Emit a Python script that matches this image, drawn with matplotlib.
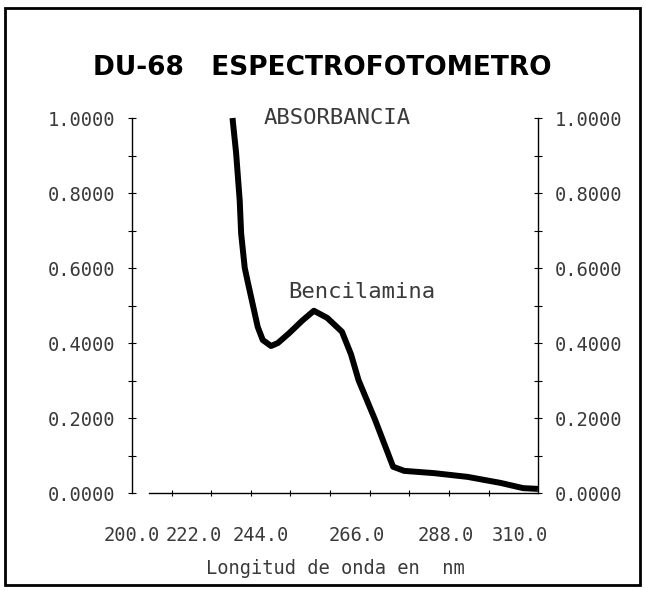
import matplotlib.pyplot as plt
from matplotlib.patches import Rectangle

# spectrum of bencilamina
wavelength = [227.9, 228.9, 229.9, 230.3, 231.3, 232.2, 234.9, 236.3, 238.6, 240.5,
              243.6, 247.3, 250.5, 254.2, 258.3, 260.8, 262.9, 267.5, 272.5, 275.6,
              283.9, 293.2, 302.3, 308.6, 312.7]
absorbance = [1.000, 0.907, 0.780, 0.692, 0.600, 0.560, 0.443, 0.408, 0.392, 0.400,
              0.426, 0.460, 0.486, 0.467, 0.430, 0.370, 0.301, 0.195, 0.070, 0.059,
              0.053, 0.043, 0.027, 0.013, 0.011]

y_ticks = [0.0, 0.2, 0.4, 0.6, 0.8, 1.0]
y_labels = ['0.0000', '0.2000', '0.4000', '0.6000', '0.8000', '1.0000']
x_labels = ['200.0', '222.0', '244.0', '266.0', '288.0', '310.0']

mono = 'DejaVu Sans Mono'
grey = '#3a3a3a'

fig = plt.figure(figsize=(6.45, 5.91), dpi=100)
ax = fig.add_axes([0.2047, 0.1658, 0.6295, 0.6345])

ax.plot(wavelength, absorbance, color='black', lw=4.3, solid_capstyle='butt',
        solid_joinstyle='round', clip_on=False)

ax.set_xlim(201.1, 312.75)
ax.set_ylim(0, 1)

ax.spines['top'].set_visible(False)
for s in ['left', 'right', 'bottom']:
    ax.spines[s].set_linewidth(1.0)
ax.spines['bottom'].set_bounds(204.7, 312.75)

# y axis on both sides
ax.set_yticks(y_ticks)
ax.set_yticks([0.1, 0.3, 0.5, 0.7, 0.9], minor=True)
ax.set_yticklabels(y_labels, fontfamily=mono, fontsize=13.5, color=grey)
ax.tick_params(axis='y', which='both', direction='inout', length=6, width=0.8,
               left=True, right=True, labelleft=True, labelright=True, pad=9)

# the printer put the x labels a bit off the regular tick marks
label_pos = [200.0, 217.0, 235.8, 262.4, 287.1, 307.8]
ax.set_xticks(label_pos)
ax.set_xticklabels(x_labels, fontfamily=mono, fontsize=13.5, color=grey)
ax.set_xticks([211.0 + 11 * i for i in range(9)], minor=True)
ax.tick_params(axis='x', which='major', length=0, pad=24)
ax.tick_params(axis='x', which='minor', direction='inout', length=5, width=0.8)

ax.set_xlabel('Longitud de onda en  nm', fontfamily=mono, fontsize=13.5,
              color=grey, labelpad=10)

ax.text(0.505, 1.0, 'ABSORBANCIA', transform=ax.transAxes, ha='center', va='center',
        fontfamily=mono, fontsize=16, color=grey)
ax.text(0.565, 0.535, 'Bencilamina', transform=ax.transAxes, ha='center', va='center',
        fontfamily=mono, fontsize=16, color=grey)

fig.text(0.5, 0.885, 'DU-68   ESPECTROFOTOMETRO', ha='center', va='center',
         fontsize=19, fontweight='bold', color='black')

fig.patches.append(Rectangle((0.008, 0.010), 0.984, 0.977, transform=fig.transFigure,
                             fill=False, lw=2, edgecolor='black'))

fig.savefig('out.png', dpi=100)
